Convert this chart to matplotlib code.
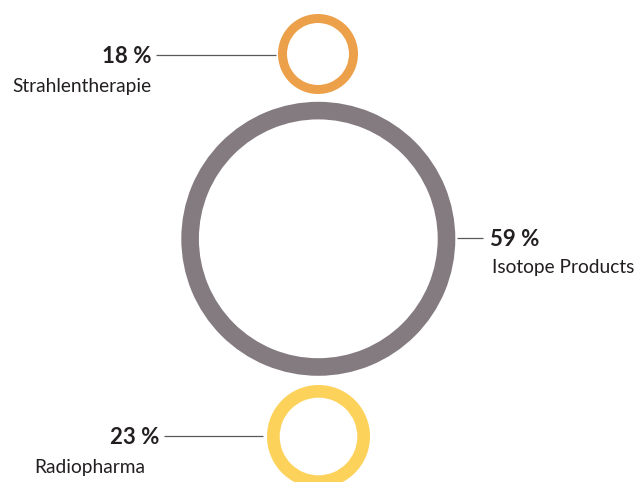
import matplotlib.pyplot as plt
from matplotlib.patches import Wedge

# data
categories = ["Strahlentherapie", "Isotope Products", "Radiopharma"]
shares = [18, 59, 23]
colors = ["#eca04a", "#847b80", "#fdd25a"]

# layout in pixels (y grows downwards)
centers = [(318, 54), (318.3, 238.8), (318.5, 436.5)]
radii = [40, 137, 51.5]
widths = [9, 17.6, 12.7]
# leader line: x start, x end, y ; label side
leaders = [(156, 276, 55, "left"), (457, 483, 238, "right"), (164, 263, 436, "left")]
label_x = [12.7, 492, 34]

plt.rcParams["font.family"] = ["Lato", "DejaVu Sans"]
text_color = "#231f20"

fig = plt.figure(figsize=(6.36, 4.82), dpi=100)
ax = fig.add_axes([0, 0, 1, 1])
ax.set_xlim(0, 636)
ax.set_ylim(482, 0)
ax.set_aspect("equal")
ax.axis("off")

for cat, val, col, c, r, w, (x0, x1, ly, side), lx in zip(
    categories, shares, colors, centers, radii, widths, leaders, label_x
):
    ax.add_patch(Wedge(c, r, 0, 360, width=w, facecolor=col, edgecolor="none"))
    ax.plot([x0, x1], [ly, ly], color="#58595b", lw=0.9, solid_capstyle="butt")
    if side == "left":
        ax.text(x0 - 5, ly + 8, f"{val} %", ha="right", va="baseline",
                fontsize=16, fontweight="bold", color=text_color)
        ax.text(lx, ly + 37, cat, ha="left", va="baseline",
                fontsize=13.8, color=text_color)
    else:
        ax.text(x1 + 7, ly + 8, f"{val} %", ha="left", va="baseline",
                fontsize=16, fontweight="bold", color=text_color)
        ax.text(lx, ly + 35, cat, ha="left", va="baseline",
                fontsize=13.8, color=text_color)

fig.savefig("out.png", dpi=100)
